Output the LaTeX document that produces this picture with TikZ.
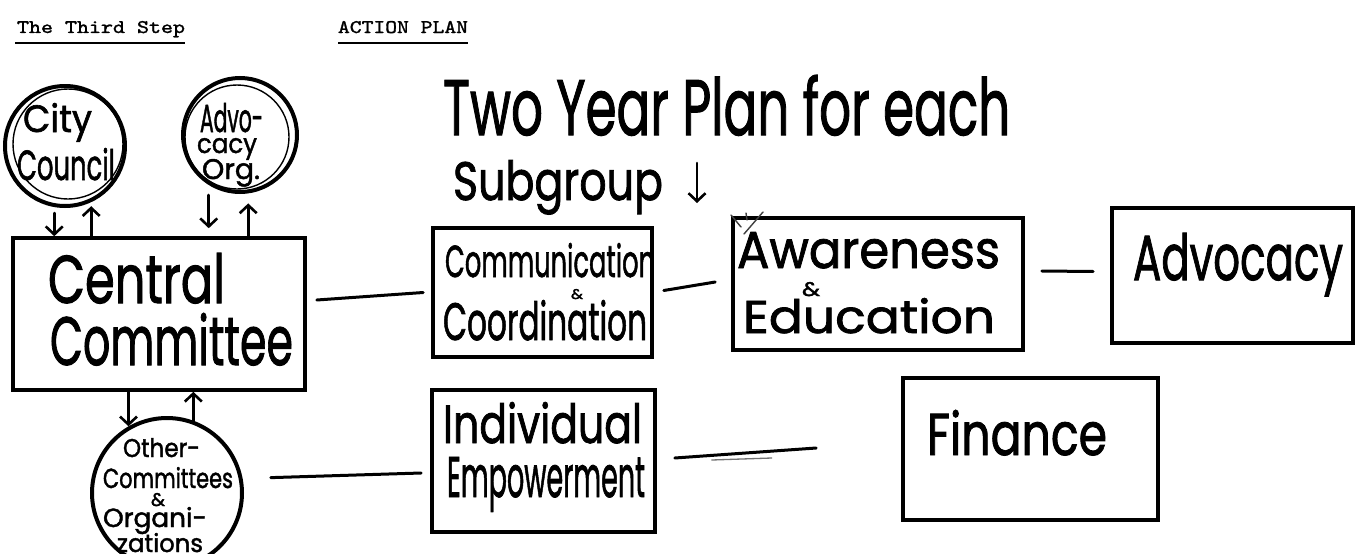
\documentclass[tikz,border=0pt]{standalone}
\usepackage{fontspec}
\usepackage{graphicx}
\newfontface\handfont{Poppins}[FakeBold=1.6]
\newfontface\typefont{Latin Modern Mono}[FakeBold=1.4]
\usetikzlibrary{arrows.meta}
% a hand-lettered word stretched to a given width and height (pt)
\newcommand{\hw}[3]{\resizebox{#1pt}{#2pt}{\handfont #3}}
% a typed heading stretched the same way
\newcommand{\tw}[3]{\resizebox{#1pt}{#2pt}{\typefont #3}}

\begin{document}
\begin{tikzpicture}[x=1pt,y=-1pt,
  boxst/.style={draw, line width=3.6pt, inner sep=0pt},
  circst/.style={draw, circle, line width=4pt, inner sep=0pt},
  word/.style={anchor=base west, inner sep=0pt, outer sep=0pt},
  link/.style={line width=3pt, line cap=round},
  faintlink/.style={line width=1.3pt, line cap=round, black!55},
  uline/.style={line width=2.6pt},
  hwarrow/.style={line width=2.6pt, line cap=round,
    -{Straight Barb[length=8pt,width=17pt]}},
  scratch/.style={line width=1.4pt, line cap=round, black!75}]
\clip (0,0) rectangle (1365,554);
\fill[white] (0,0) rectangle (1365,554);

% typed headings
\node[word] (third) at (17,33) {\tw{168}{12}{The Third Step}};
\node[word] (plan) at (338,33) {\tw{130}{12}{ACTION PLAN}};
\draw[uline] ([shift={(-2,10)}]third.base west) -- ([shift={(0,10)}]third.base east);
\draw[uline] ([shift={(0,10)}]plan.base west) -- ([shift={(0,10)}]plan.base east);

% circles
\node[circst, minimum size=120] (city) at (65,146) {};
\draw[line width=1.4pt] (city.center) ++(3,-2) circle[radius=55];
\node[circst, minimum size=114] (advo) at (240,135) {};
\draw[line width=1.4pt] (advo.center) ++(-3,2) circle[radius=52];
\node[circst, minimum size=150] (other) at (167,493) {};

\node[word] (city1) at (23,132) {\hw{69}{29}{City}};
\node[word] (city2) at (17,180) {\hw{98}{32}{Council}};
\node[word] (advo1) at (200,132) {\hw{63}{29}{Advo-}};
\node[word] (advo2) at (197,153) {\hw{60}{15}{cacy}};
\node[word] (advo3) at (202,179) {\hw{58}{20}{Org.}};
\node[word] (oth1) at (123,457) {\hw{77}{19}{Other-}};
\node[word] (oth2) at (103,488) {\hw{130}{21}{Committees}};
\node[word] (oth3) at (151,506) {\hw{14}{13}{\&}};
\node[word] (oth4) at (103,527) {\hw{104}{20}{Organi-}};
\node[word] (oth5) at (117,552) {\hw{86}{19}{zations}};

% boxes
\node[boxst, minimum width=292, minimum height=152] (cc) at (159,314) {};
\node[boxst, minimum width=219, minimum height=129] (comm) at (542.5,292.5) {};
\node[boxst, minimum width=290, minimum height=132] (aw) at (878,284) {};
\node[boxst, minimum width=241, minimum height=135] (adv) at (1232.5,275.5) {};
\node[boxst, minimum width=223, minimum height=142] (ie) at (543.5,461) {};
\node[boxst, minimum width=255, minimum height=142] (fin) at (1030.5,449) {};

\node[word] (cc1) at (48,303) {\hw{177}{50}{Central}};
\node[word] (cc2) at (50,365) {\hw{243}{52}{Committee}};
\node[word] (comm1) at (445,277) {\hw{210}{34}{Communication}};
\node[word] (comm2) at (571,299) {\hw{12}{10}{\&}};
\node[word] (comm3) at (443,340) {\hw{204}{40}{Coordination}};
\node[word] (aw1) at (737,268) {\hw{263}{36}{Awareness}};
\node[word] (aw2) at (802,296) {\hw{18}{14}{\&}};
\node[word] (aw3) at (743,333) {\hw{252}{35}{Education}};
\node[word] (adv1) at (1133,280) {\hw{210}{47}{Advocacy}};
\node[word] (ie1) at (443,443) {\hw{199}{41}{Individual}};
\node[word] (ie2) at (447,497) {\hw{198}{40}{Empowerment}};
\node[word] (fin1) at (927,455) {\hw{180}{45}{Finance}};

% hand-written title
\node[word] (title1) at (443,135) {\hw{567}{60}{Two Year Plan for each}};
\node[word] (title2) at (453,200) {\hw{210}{40}{Subgroup}};
\coordinate (sgtop) at (697,163);
\coordinate (sgtip) at (697,203);
\draw[hwarrow] (sgtop) -- (sgtip);
\draw[scratch] (731,215) -- (741,227);
\draw[scratch] (746,213) -- (747,220);
\draw[scratch] (763,212) -- (744,234);

% arrows between the circles and the central committee
\draw[hwarrow, shorten <=6pt] (city.-100) -- (city.-100 |- cc.north);
\draw[hwarrow, shorten >=4pt] (city.-65 |- cc.north) -- (city.-65);
\draw[hwarrow, shorten <=10pt, shorten >=8pt] (advo.-122) -- (advo.-122 |- cc.north);
\draw[hwarrow, shorten >=10pt] (advo.-82 |- cc.north) -- (advo.-82);
\draw[hwarrow] (cc.south -| other.120) -- (other.120);
\draw[hwarrow] (other.70) -- (cc.south -| other.70);

% links between the groups
\draw[link] ([shift={(10,-14)}]cc.east) -- ([shift={(-8,0)}]comm.west);
\draw[link] ([shift={(10,-2)}]comm.east) -- ([shift={(-16,-2)}]aw.west);
\draw[link] ([shift={(17,-13)}]aw.east) -- ([shift={(-17,-4)}]adv.west);
\draw[link] ([shift={(28,-2)}]other.10) -- ([shift={(-9,12)}]ie.west);
\draw[link] ([shift={(18,-3)}]ie.east) -- ([shift={(-85,-1)}]fin.west);
\draw[faintlink] ([shift={(55,-1)}]ie.east) -- ([shift={(115,-3)}]ie.east);
\end{tikzpicture}
\end{document}
